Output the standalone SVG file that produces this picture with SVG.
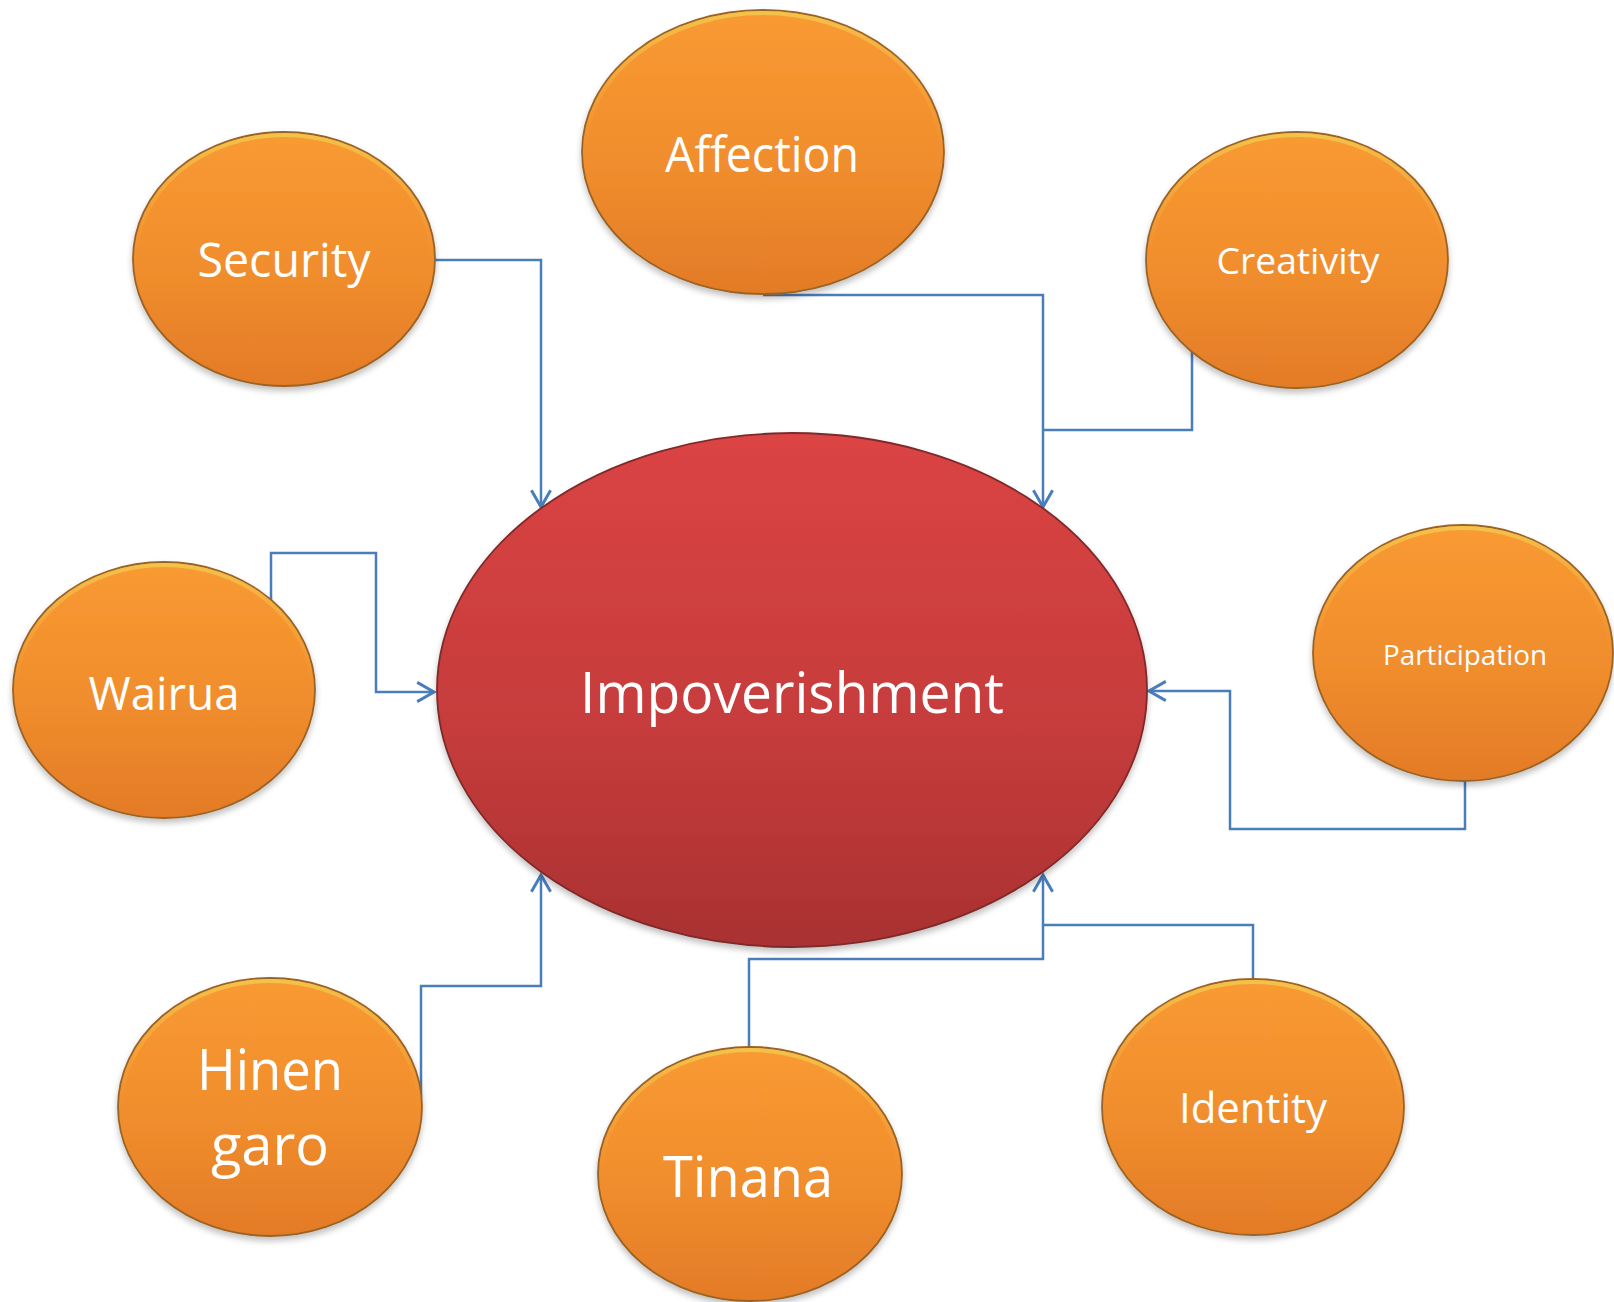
<svg xmlns="http://www.w3.org/2000/svg" width="1614" height="1302" viewBox="0 0 1614 1302">
  <defs>
    <linearGradient id="gOrange" x1="0" y1="0" x2="0" y2="1">
      <stop offset="0" stop-color="#F99A31"/>
      <stop offset="0.55" stop-color="#F08D2D"/>
      <stop offset="1" stop-color="#E37B27"/>
    </linearGradient>
    <linearGradient id="gRed" x1="0" y1="0" x2="0" y2="1">
      <stop offset="0" stop-color="#DB4444"/>
      <stop offset="0.6" stop-color="#C53B3B"/>
      <stop offset="1" stop-color="#A93131"/>
    </linearGradient>
    <linearGradient id="gRimO" x1="0" y1="0" x2="0" y2="1">
      <stop offset="0" stop-color="#F2C24A"/>
      <stop offset="0.5" stop-color="#F7A13E" stop-opacity="0"/>
      <stop offset="1" stop-color="#E8842E" stop-opacity="0"/>
    </linearGradient>
    <filter id="shadow" x="-10%" y="-10%" width="120%" height="125%">
      <feGaussianBlur in="SourceAlpha" stdDeviation="3"/>
      <feOffset dx="0" dy="4" result="b"/>
      <feComponentTransfer><feFuncA type="linear" slope="0.25"/></feComponentTransfer>
      <feMerge><feMergeNode/><feMergeNode in="SourceGraphic"/></feMerge>
    </filter>
    <marker id="arrow" markerUnits="userSpaceOnUse" markerWidth="24" markerHeight="24" refX="16" refY="10" orient="auto" viewBox="0 0 20 20">
      <path d="M2,2 L16,10 L2,18" fill="none" stroke="#4A7EBB" stroke-width="2.5"/>
    </marker>
  </defs>
  <style>
    .orange { fill: url(#gOrange); stroke: #9A6426; stroke-width: 1.8; filter: url(#shadow); }
    .rim { fill: none; stroke: url(#gRimO); stroke-width: 4; }
    .red { fill: url(#gRed); stroke: #7E2A2A; stroke-width: 1.8; filter: url(#shadow); }
    .lbl { fill: #FFFFFF; font-family: "Open Sans", "Liberation Sans", sans-serif; text-anchor: middle; }
    .conn { fill: none; stroke: #4A7EBB; stroke-width: 2.5; }
  </style>

  <g id="connectors">
    <path class="conn" d="M435,260 H541 V507" marker-end="url(#arrow)"/>
    <path class="conn" d="M763,295 H1043 V507" marker-end="url(#arrow)"/>
    <path class="conn" d="M1192,350 V430 H1043"/>
    <path class="conn" d="M271,600 V553 H376 V692 H434" marker-end="url(#arrow)"/>
    <path class="conn" d="M1465,781 V829 H1230 V691 H1149" marker-end="url(#arrow)"/>
    <path class="conn" d="M421,1097 V986 H541 V875" marker-end="url(#arrow)"/>
    <path class="conn" d="M749,1047 V959 H1043 V875" marker-end="url(#arrow)"/>
    <path class="conn" d="M1253,978 V925 H1043"/>
  </g>

  <g id="impoverishment">
    <ellipse class="red" cx="792" cy="690" rx="355" ry="257"/>
    <text class="lbl" x="792" y="713" font-size="57" textLength="424" lengthAdjust="spacingAndGlyphs">Impoverishment</text>
  </g>

  <g id="security">
    <ellipse class="orange" cx="284" cy="259" rx="151" ry="127"/>
    <ellipse class="rim" cx="284" cy="259" rx="148" ry="124"/>
    <text class="lbl" x="284" y="277" font-size="48" textLength="173" lengthAdjust="spacingAndGlyphs">Security</text>
  </g>

  <g id="affection">
    <ellipse class="orange" cx="763" cy="152" rx="181" ry="142"/>
    <ellipse class="rim" cx="763" cy="152" rx="178" ry="139"/>
    <text class="lbl" x="762" y="172" font-size="49" textLength="194" lengthAdjust="spacingAndGlyphs">Affection</text>
  </g>

  <g id="creativity">
    <ellipse class="orange" cx="1297" cy="260" rx="151" ry="128"/>
    <ellipse class="rim" cx="1297" cy="260" rx="148" ry="125"/>
    <text class="lbl" x="1298" y="274" font-size="37" textLength="163" lengthAdjust="spacingAndGlyphs">Creativity</text>
  </g>

  <g id="wairua">
    <ellipse class="orange" cx="164" cy="690" rx="151" ry="128"/>
    <ellipse class="rim" cx="164" cy="690" rx="148" ry="125"/>
    <text class="lbl" x="164" y="710" font-size="46" textLength="151" lengthAdjust="spacingAndGlyphs">Wairua</text>
  </g>

  <g id="participation">
    <ellipse class="orange" cx="1463" cy="653" rx="150" ry="128"/>
    <ellipse class="rim" cx="1463" cy="653" rx="147" ry="125"/>
    <text class="lbl" x="1465" y="665" font-size="28" textLength="164" lengthAdjust="spacingAndGlyphs">Participation</text>
  </g>

  <g id="hinengaro">
    <ellipse class="orange" cx="270" cy="1107" rx="152" ry="129"/>
    <ellipse class="rim" cx="270" cy="1107" rx="149" ry="126"/>
    <text class="lbl" x="270" y="1090" font-size="56" textLength="146" lengthAdjust="spacingAndGlyphs">Hinen</text>
    <text class="lbl" x="270" y="1165" font-size="56">garo</text>
  </g>

  <g id="tinana">
    <ellipse class="orange" cx="750" cy="1174" rx="152" ry="127"/>
    <ellipse class="rim" cx="750" cy="1174" rx="149" ry="124"/>
    <text class="lbl" x="748" y="1197" font-size="57" textLength="170" lengthAdjust="spacingAndGlyphs">Tinana</text>
  </g>

  <g id="identity">
    <ellipse class="orange" cx="1253" cy="1107" rx="151" ry="128"/>
    <ellipse class="rim" cx="1253" cy="1107" rx="148" ry="125"/>
    <text class="lbl" x="1253" y="1123" font-size="42" textLength="148" lengthAdjust="spacingAndGlyphs">Identity</text>
  </g>
</svg>
